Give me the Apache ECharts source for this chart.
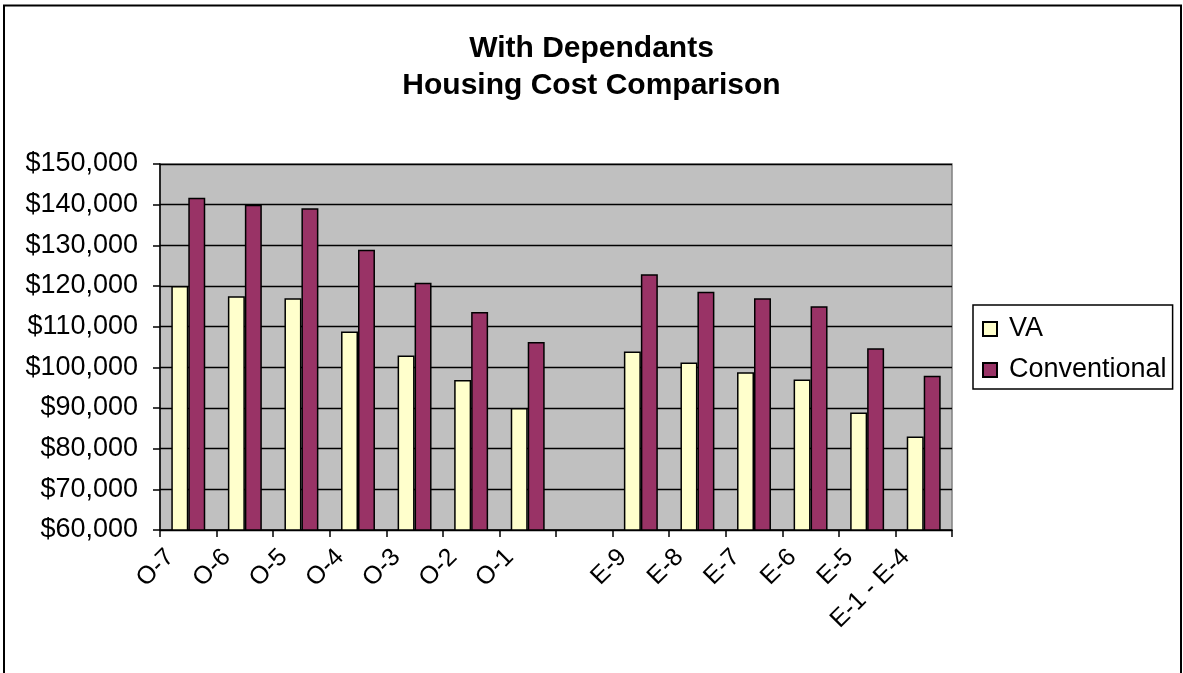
<!DOCTYPE html>
<html>
<head>
<meta charset="utf-8">
<script src="https://cdn.jsdelivr.net/npm/echarts@6/dist/echarts.min.js"></script>
<style>
html,body{margin:0;padding:0;background:#fff;}
#chart{width:1183px;height:673px;}
</style>
</head>
<body>
<div id="chart"></div>
<script>
const categories = ['O-7','O-6','O-5','O-4','O-3','O-2','O-1','','E-9','E-8','E-7','E-6','E-5','E-1 - E-4'];
const vaValues = [120000,117500,117000,108800,102900,96900,90000,null,103900,101200,98800,97000,88900,83000];
const conventionalValues = [141700,140000,139100,128900,120800,113600,106200,null,122900,118600,117000,115000,104700,97900];
const seriesNames = ['VA','Conventional'];
const titleLines = ['With Dependants','Housing Cost Comparison'];

const FONT = '"Liberation Sans", Arial, sans-serif';
const chart = echarts.init(document.getElementById('chart'));
chart.setOption({
  animation: false,
  backgroundColor: '#ffffff',
  title: {
    text: titleLines.join('\n'),
    left: 'center',
    top: 25,
    textStyle: {fontFamily: FONT, fontSize: 30, fontWeight: 'bold', color: '#000', lineHeight: 37}
  },
  graphic: [{
    type: 'rect',
    shape: {x: 4, y: 5.5, width: 1177, height: 720},
    style: {fill: 'none', stroke: '#000', lineWidth: 2},
    silent: true
  }],
  legend: {
    orient: 'vertical',
    left: 973,
    top: 305,
    padding: [10, 6, 5, 9],
    itemGap: 13,
    itemWidth: 14,
    itemHeight: 14,
    borderColor: '#000',
    borderWidth: 1.5,
    backgroundColor: '#fff',
    textStyle: {fontFamily: FONT, fontSize: 27, lineHeight: 28, color: '#000', padding: [0, 0, 0, 7]},
    data: seriesNames.map(n => ({name: n, icon: 'rect'}))
  },
  grid: {
    left: 160, right: 231, top: 164, bottom: 143,
    show: true,
    backgroundColor: '#C0C0C0',
    borderColor: '#808080',
    borderWidth: 1.5
  },
  xAxis: {
    type: 'category',
    data: categories,
    boundaryGap: true,
    axisLine: {lineStyle: {color: '#000', width: 1.5}},
    axisTick: {show: true, length: 7, interval: 0, lineStyle: {color: '#000', width: 1.5}},
    axisLabel: {
      interval: 0,
      rotate: 45,
      margin: 13,
      fontFamily: FONT,
      fontSize: 25,
      color: '#000',
      formatter: v => '{a|' + v + '}',
      rich: {a: {fontFamily: FONT, fontSize: 25, color: '#000', padding: [0, 20, 11, 0]}}
    }
  },
  yAxis: {
    type: 'value',
    min: 60000,
    max: 150000,
    interval: 10000,
    axisLine: {show: true, lineStyle: {color: '#000', width: 1.5}},
    axisTick: {show: true, length: 7, lineStyle: {color: '#000', width: 1.5}},
    splitLine: {show: true, lineStyle: {color: '#000', width: 1.3}},
    axisLabel: {
      margin: 22,
      fontFamily: FONT,
      fontSize: 27,
      color: '#000',
      formatter: v => '$' + v.toLocaleString('en-US')
    }
  },
  series: [
    {
      name: seriesNames[0], type: 'bar', data: vaValues,
      barGap: '0%', barCategoryGap: '40%',
      itemStyle: {color: '#FFFFCC', borderColor: '#000', borderWidth: 1.5}
    },
    {
      name: seriesNames[1], type: 'bar', data: conventionalValues,
      barGap: '0%', barCategoryGap: '40%',
      itemStyle: {color: '#993366', borderColor: '#000', borderWidth: 1.5}
    }
  ]
});
</script>
</body>
</html>
